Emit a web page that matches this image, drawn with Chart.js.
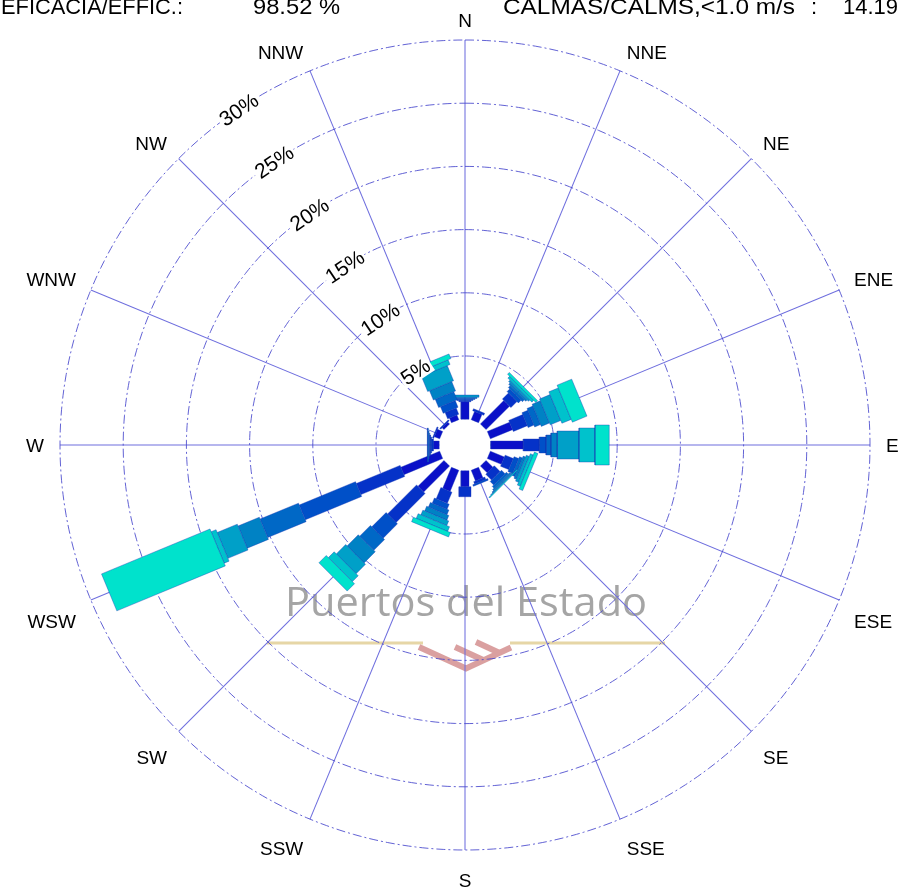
<!DOCTYPE html>
<html>
<head>
<meta charset="utf-8">
<script src="https://cdn.jsdelivr.net/npm/chart.js@4.4.1/dist/chart.umd.min.js"></script>
<style>
html,body{margin:0;padding:0;background:#ffffff;}
canvas{display:block;}
</style>
</head>
<body>
<canvas id="rose" width="899" height="888"></canvas>
<script>
// ---------------- DATA ----------------
const directions = ['N','NNE','NE','ENE','E','ESE','SE','SSE','S','SSW','SW','WSW','W','WNW','NW','NNW'];
// frequency (%) of each speed class per direction (classes from weakest to strongest)
const class1 = [1.38, 0.70, 2.62, 1.90, 2.57, 1.20, 0.76, 0.90, 1.26, 1.80, 2.90, 3.32, 0.45, 0.45, 0.20, 0.40];
const class2 = [0.10, 0.17, 0.68, 1.20, 1.27, 0.70, 0.65, 0.20, 0.79, 0.96, 3.25, 3.75, 0.15, 0.10, 0.10, 0.53];
const class3 = [0.08, 0.00, 0.30, 0.50, 0.53, 0.40, 0.39, 0.13, 0.00, 0.44, 1.60, 4.82, 0.08, 0.00, 0.00, 0.57];
const class4 = [0.08, 0.00, 0.20, 0.50, 0.39, 0.25, 0.20, 0.00, 0.00, 0.40, 1.20, 3.29, 0.06, 0.00, 0.00, 0.70];
const class5 = [0.10, 0.00, 0.15, 0.70, 0.50, 0.20, 0.10, 0.00, 0.00, 0.40, 1.25, 1.82, 0.06, 0.00, 0.00, 0.80];
const class6 = [0.17, 0.00, 0.15, 0.90, 1.72, 0.25, 0.08, 0.00, 0.00, 0.40, 1.05, 1.72, 0.06, 0.00, 0.00, 1.30];
const class7 = [0.00, 0.00, 0.20, 0.80, 1.26, 0.25, 0.04, 0.00, 0.00, 0.40, 0.65, 0.42, 0.07, 0.00, 0.00, 0.40];
const class8 = [0.00, 0.00, 0.20, 1.25, 1.13, 0.30, 0.08, 0.00, 0.00, 0.38, 0.82, 9.29, 0.00, 0.00, 0.00, 0.40];
const speedClasses = [class1, class2, class3, class4, class5, class6, class7, class8];
const ringTicks = [5, 10, 15, 20, 25, 30];
const ringTickLabels = ['5%', '10%', '15%', '20%', '25%', '30%'];
const efficacyText = 'EFICACIA/EFFIC.:';
const efficacyValue = '98.52 %';
const calmsText = 'CALMAS/CALMS,<1.0 m/s';
const calmsValue = '14.19 %';
const watermarkText = 'Puertos del Estado';

// ---------------- STYLE / GEOMETRY ----------------
const CANVAS_W = 899, CANVAS_H = 888;
const CENTER_X = 465, CENTER_Y = 445;
const PX_PER_PCT = 12.64;
const HOLE = 25.8 / PX_PER_PCT;           // calms circle radius, in % units
const classColors = ['#0a10c8', '#0532c8', '#0050c8', '#0068c6', '#0082c4', '#00a0c8', '#00c2cc', '#00e2cc'];
const classWidthPx = [8, 12, 16, 20, 24, 28, 34, 40];
const gridColor = 'rgba(70,70,205,0.85)';
const spokeColor = 'rgb(110,110,222)';
const LABEL_FONT = '"Liberation Sans", Arial, Helvetica, sans-serif';

const D2R = Math.PI / 180;
function pt(u, deg) { return { x: u * Math.sin(deg * D2R), y: u * Math.cos(deg * D2R) }; }
function rectPoly(p0, p1, deg, half) {
  const s = Math.sin(deg * D2R), c = Math.cos(deg * D2R);
  const u0 = HOLE + p0, u1 = HOLE + p1;
  const A = { x: s * u0 + c * half, y: c * u0 - s * half };
  const B = { x: s * u1 + c * half, y: c * u1 - s * half };
  const C = { x: s * u1 - c * half, y: c * u1 + s * half };
  const Dd = { x: s * u0 - c * half, y: c * u0 + s * half };
  return [A, B, C, Dd, { x: A.x, y: A.y }];
}

const OUTER = HOLE + ringTicks[ringTicks.length - 1];
const datasets = [];
// rings
ringTicks.forEach(t => {
  const pts = [];
  for (let a = 0; a <= 360; a += 1) pts.push(pt(HOLE + t, a));
  datasets.push({ data: pts, borderColor: gridColor, backgroundColor: gridColor, borderWidth: 1, borderDash: [9, 3, 2, 3], fill: false });
});
// calms hole
(() => {
  const pts = [];
  for (let a = 0; a <= 360; a += 3) pts.push(pt(HOLE, a));
  datasets.push({ data: pts, borderWidth: 0, borderColor: '#ffffff', backgroundColor: '#ffffff', fill: 'shape' });
})();
// bars
directions.forEach((d, i) => {
  const deg = i * 22.5;
  let cum = 0;
  speedClasses.forEach((arr, k) => {
    const v = arr[i];
    if (v > 0) {
      datasets.push({ data: rectPoly(cum, cum + v, deg, classWidthPx[k] / 2 / PX_PER_PCT),
        backgroundColor: classColors[k], borderColor: 'rgba(20,50,180,0.55)', borderWidth: 0.7, fill: 'shape' });
    }
    cum += v;
  });
});
// draw order: first pushed at the bottom
datasets.forEach((ds, idx) => { ds.order = datasets.length - idx; });

// ---------------- PLUGINS ----------------
function fitText(ctx, txt, x, y, targetW) {
  const w = ctx.measureText(txt).width;
  const k = targetW ? targetW / w : 1;
  ctx.save();
  ctx.translate(x, y);
  ctx.scale(k, 1);
  ctx.fillText(txt, 0, 0);
  ctx.restore();
}

const backgroundPlugin = {
  id: 'backdrop',
  beforeDatasetsDraw(chart) {
    const ctx = chart.ctx, xs = chart.scales.x, ys = chart.scales.y;
    const cx = xs.getPixelForValue(0), cy = ys.getPixelForValue(0);
    ctx.save();
    // watermark
    ctx.font = '41px "Open Sans", "Noto Sans", sans-serif';
    ctx.fillStyle = 'rgba(160,160,160,0.95)';
    ctx.textBaseline = 'alphabetic';
    ctx.textAlign = 'left';
    fitText(ctx, watermarkText, cx - 180, cy + 171, 362);
    ctx.strokeStyle = '#e6d6a6';
    ctx.lineWidth = 3;
    ctx.beginPath();
    ctx.moveTo(cx - 198, cy + 198); ctx.lineTo(cx - 42, cy + 198);
    ctx.moveTo(cx + 45, cy + 198); ctx.lineTo(cx + 200, cy + 198);
    ctx.stroke();
    ctx.strokeStyle = 'rgba(214,150,150,0.9)';
    ctx.lineWidth = 6;
    ctx.beginPath();
    ctx.moveTo(cx - 46, cy + 202); ctx.lineTo(cx + 1, cy + 223.5); ctx.lineTo(cx + 46, cy + 202.5);
    ctx.moveTo(cx - 10, cy + 202); ctx.lineTo(cx + 18.8, cy + 215.2);
    ctx.moveTo(cx + 11, cy + 197); ctx.lineTo(cx + 34.7, cy + 207.9);
    ctx.stroke();
    // direction spokes, through the scales (width just above 1px: avoids the hairline raster path)
    ctx.strokeStyle = spokeColor;
    ctx.lineWidth = 1.05;
    ctx.setLineDash([]);
    directions.forEach((d, i) => {
      const a = i * 22.5;
      const p1 = pt(OUTER, a), p0 = pt(HOLE * 0.9, a);
      ctx.beginPath();
      ctx.moveTo(xs.getPixelForValue(p0.x), ys.getPixelForValue(p0.y));
      ctx.lineTo(xs.getPixelForValue(p1.x), ys.getPixelForValue(p1.y));
      ctx.stroke();
    });
    ctx.restore();
  }
};

const ringLabelPlugin = {
  id: 'ringLabels',
  afterDatasetsDraw(chart) {
    const ctx = chart.ctx, xs = chart.scales.x, ys = chart.scales.y;
    const ang = -34;
    ctx.save();
    ctx.font = '21px ' + LABEL_FONT;
    ringTicks.forEach((t, i) => {
      const p = pt(HOLE + t, ang);
      const px = xs.getPixelForValue(p.x), py = ys.getPixelForValue(p.y);
      const txt = ringTickLabels[i];
      const w = ctx.measureText(txt).width;
      ctx.save();
      ctx.translate(px, py);
      ctx.rotate(ang * D2R);
      ctx.fillStyle = '#ffffff';
      ctx.fillRect(-w / 2 - 2, -10, w + 4, 20);
      ctx.fillStyle = '#000000';
      ctx.textAlign = 'center';
      ctx.textBaseline = 'alphabetic';
      ctx.fillText(txt, 0, 7.5);
      ctx.restore();
    });
    ctx.restore();
  }
};

const textPlugin = {
  id: 'texts',
  afterDraw(chart) {
    const ctx = chart.ctx, xs = chart.scales.x, ys = chart.scales.y;
    ctx.save();
    // compass labels
    ctx.font = '19px ' + LABEL_FONT;
    ctx.fillStyle = '#000000';
    ctx.textAlign = 'center';
    ctx.textBaseline = 'alphabetic';
    const capH = 13.6;
    const R = 420 / PX_PER_PCT - HOLE;   // label anchor radius, in % units
    directions.forEach((d, i) => {
      const deg = i * 22.5;
      const s = Math.sin(deg * D2R), c = Math.cos(deg * D2R);
      const p = pt(HOLE + R, deg);
      const px = xs.getPixelForValue(p.x), py = ys.getPixelForValue(p.y);
      const w = ctx.measureText(d).width;
      const dx = Math.abs(s) > 0.01 ? Math.sign(s) * (w / 2 + 1) : 0;
      const dy = Math.abs(c) > 0.01 ? (c > 0 ? -5 : 15) : 0;
      ctx.fillText(d, px + dx, py + dy + capH / 2);
    });
    // header
    ctx.font = '22px ' + LABEL_FONT;
    ctx.textAlign = 'left';
    const base = 13.5;
    fitText(ctx, efficacyText, 1, base, 182);
    fitText(ctx, efficacyValue, 253, base, 87);
    fitText(ctx, calmsText, 503, base, 292);
    fitText(ctx, ':', 811, base, 0);
    fitText(ctx, calmsValue, 843, base, 0);
    ctx.restore();
  }
};

new Chart(document.getElementById('rose'), {
  type: 'line',
  data: { datasets },
  options: {
    responsive: false,
    animation: false,
    devicePixelRatio: 1,
    events: [],
    layout: { padding: 0 },
    elements: { point: { radius: 0, hoverRadius: 0 }, line: { tension: 0 } },
    plugins: { legend: { display: false }, tooltip: { enabled: false }, title: { display: false } },
    scales: {
      x: { type: 'linear', display: false, min: -CENTER_X / PX_PER_PCT, max: (CANVAS_W - CENTER_X) / PX_PER_PCT },
      y: { type: 'linear', display: false, min: -(CANVAS_H - CENTER_Y) / PX_PER_PCT, max: CENTER_Y / PX_PER_PCT }
    }
  },
  plugins: [backgroundPlugin, ringLabelPlugin, textPlugin]
});
</script>
</body>
</html>
